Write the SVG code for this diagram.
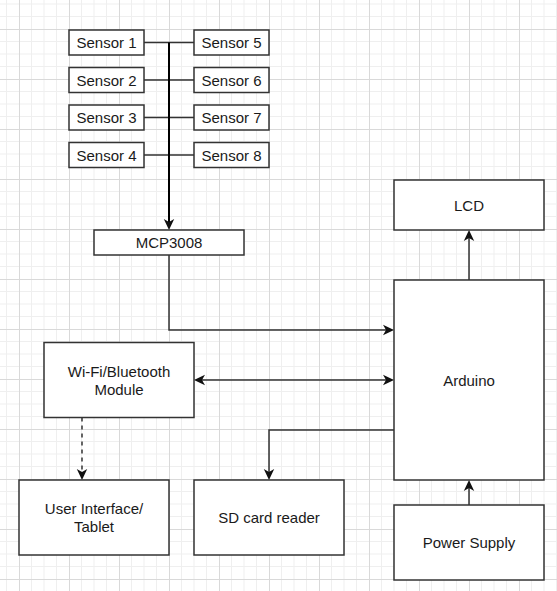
<svg xmlns="http://www.w3.org/2000/svg" width="557" height="591" viewBox="0 0 557 591">
  <defs>
    <pattern id="grid" patternUnits="userSpaceOnUse" x="19" y="29" width="50" height="50">
      <rect width="50" height="50" fill="#ffffff"/>
      <path d="M12.5 0V50M25 0V50M37.5 0V50M0 12.5H50M0 25H50M0 37.5H50" stroke="#efefef" stroke-width="1" fill="none"/>
      <path d="M0.5 0V50M0 0.5H50" stroke="#d9d9d9" stroke-width="1" fill="none"/>
    </pattern>
    <marker id="arrow" markerUnits="userSpaceOnUse" viewBox="0 -6 12 12" markerWidth="12" markerHeight="12" refX="8" refY="0" orient="auto-start-reverse">
      <path d="M11 0L0 -5.2L3 0L0 5.2Z" fill="#111"/>
    </marker>
    <style>
      .box { fill: #ffffff; stroke: #333333; stroke-width: 1.5; }
      .lbl { font-family: "Liberation Sans", Arial, sans-serif; font-size: 15px; fill: #1a1a1a; text-anchor: middle; }
      .edge { fill: none; stroke: #333333; stroke-width: 1.5; }
      .bus { fill: none; stroke: #000000; stroke-width: 2; }
      .dash { stroke-dasharray: 4 4; }
    </style>
  </defs>

  <rect width="557" height="591" fill="url(#grid)"/>

  <g id="connectors">
    <path class="edge" d="M144 42.5H194M144 80H194M144 117.5H194M144 155H194"/>
    <path class="bus" d="M169 42.5V227" marker-end="url(#arrow)"/>
    <path class="edge" d="M169 255V330H391" marker-end="url(#arrow)"/>
    <path class="edge" d="M197 380H391" marker-start="url(#arrow)" marker-end="url(#arrow)"/>
    <path class="edge dash" d="M82 417.5V477" marker-end="url(#arrow)"/>
    <path class="edge" d="M394 430H269V477" marker-end="url(#arrow)"/>
    <path class="edge" d="M469 280V233" marker-end="url(#arrow)"/>
    <path class="edge" d="M469 505V483" marker-end="url(#arrow)"/>
  </g>

  <g id="sensor1"><rect class="box" x="69" y="30" width="75" height="25"/><text class="lbl" x="106.5" y="48">Sensor 1</text></g>
  <g id="sensor2"><rect class="box" x="69" y="67.5" width="75" height="25"/><text class="lbl" x="106.5" y="85.5">Sensor 2</text></g>
  <g id="sensor3"><rect class="box" x="69" y="105" width="75" height="25"/><text class="lbl" x="106.5" y="123">Sensor 3</text></g>
  <g id="sensor4"><rect class="box" x="69" y="142.5" width="75" height="25"/><text class="lbl" x="106.5" y="160.5">Sensor 4</text></g>
  <g id="sensor5"><rect class="box" x="194" y="30" width="75" height="25"/><text class="lbl" x="231.5" y="48">Sensor 5</text></g>
  <g id="sensor6"><rect class="box" x="194" y="67.5" width="75" height="25"/><text class="lbl" x="231.5" y="85.5">Sensor 6</text></g>
  <g id="sensor7"><rect class="box" x="194" y="105" width="75" height="25"/><text class="lbl" x="231.5" y="123">Sensor 7</text></g>
  <g id="sensor8"><rect class="box" x="194" y="142.5" width="75" height="25"/><text class="lbl" x="231.5" y="160.5">Sensor 8</text></g>

  <g id="mcp3008"><rect class="box" x="94" y="230" width="150" height="25"/><text class="lbl" x="169" y="248">MCP3008</text></g>
  <g id="lcd"><rect class="box" x="394" y="180" width="150" height="50"/><text class="lbl" x="469" y="210.5">LCD</text></g>
  <g id="arduino"><rect class="box" x="394" y="280" width="150" height="200"/><text class="lbl" x="469" y="385.5">Arduino</text></g>
  <g id="wifi"><rect class="box" x="44" y="342.5" width="150" height="75"/><text class="lbl" x="119" y="376.5">Wi-Fi/Bluetooth</text><text class="lbl" x="119" y="394.5">Module</text></g>
  <g id="ui"><rect class="box" x="19" y="480" width="150" height="75"/><text class="lbl" x="94" y="514">User Interface/</text><text class="lbl" x="94" y="532">Tablet</text></g>
  <g id="sdcard"><rect class="box" x="194" y="480" width="150" height="75"/><text class="lbl" x="269" y="523">SD card reader</text></g>
  <g id="power"><rect class="box" x="394" y="505" width="150" height="75"/><text class="lbl" x="469" y="548">Power Supply</text></g>
</svg>
